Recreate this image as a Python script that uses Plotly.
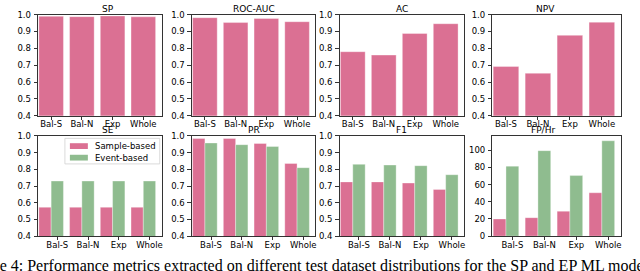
import plotly.graph_objects as go

categories = ["Bal-S", "Bal-N", "Exp", "Whole"]

# Top row (single series)
sp = [0.990, 0.988, 0.992, 0.987]
roc_auc = [0.982, 0.953, 0.977, 0.958]
ac = [0.780, 0.760, 0.888, 0.946]
npv = [0.692, 0.652, 0.877, 0.955]

# Bottom row (sample-based vs event-based)
se_sample = [0.573, 0.573, 0.573, 0.573]
se_event = [0.730, 0.730, 0.730, 0.730]
pr_sample = [0.985, 0.985, 0.955, 0.835]
pr_event = [0.958, 0.948, 0.937, 0.810]
f1_sample = [0.725, 0.725, 0.718, 0.680]
f1_event = [0.830, 0.826, 0.822, 0.768]
fphr_sample = [20.0, 21.5, 29.0, 50.5]
fphr_event = [81.5, 99.5, 70.5, 111.0]

top_titles = ["SP", "ROC-AUC", "AC", "NPV"]
bottom_titles = ["SE", "PR", "F1", "FP/Hr"]
series_names = ["Sample-based", "Event-based"]
caption = ("Figure 4: Performance metrics extracted on different test dataset "
           "distributions for the SP and EP ML models.")

PINK = "#DB7093"
GREEN = "#8FBC8F"
W, H = 640, 271

x_px = [(38, 162), (192, 316), (340, 465), (493, 622)]
top_px = (10, 115)
bot_px = (136, 240)

def px(x):
    return x / W

def py(y):
    return 1 - y / H

def xdom(i):
    a, b = x_px[i]
    return [px(a), px(b)]

def ydom(r):
    t, b = r
    return [py(b), py(t)]

fig = go.Figure()
pos = list(range(len(categories)))
XR = [-0.43, 3.6]
font = "DejaVu Sans"
edge = dict(color="rgba(255,255,255,0.55)", width=0.6)

axis_common = dict(showline=True, mirror=True, linecolor="black", linewidth=0.8,
                   ticks="outside", ticklen=3.5, tickwidth=0.8, tickcolor="black",
                   showgrid=False, zeroline=False,
                   tickfont=dict(family=font, size=8.5, color="black"))

top_data = [sp, roc_auc, ac, npv]
for i, vals in enumerate(top_data):
    n = i + 1
    xa = "x" if n == 1 else f"x{n}"
    ya = "y" if n == 1 else f"y{n}"
    fig.add_trace(go.Bar(x=pos, y=vals, width=0.8, marker=dict(color=PINK, line=edge),
                         xaxis=xa, yaxis=ya, showlegend=False, hoverinfo="skip"))
    fig.layout[f"xaxis{'' if n == 1 else n}"] = dict(domain=xdom(i), anchor=ya, range=XR,
        tickmode="array", tickvals=pos, ticktext=categories, ticklabelstandoff=-3,
        **axis_common)
    fig.layout[f"yaxis{'' if n == 1 else n}"] = dict(domain=ydom(top_px), anchor=xa,
        range=[0.4, 1.0], dtick=0.1, tickformat=".1f", ticklabelstandoff=1, **axis_common)
    fig.add_annotation(text=top_titles[i], xref="paper", yref="paper",
                       x=sum(xdom(i)) / 2, y=ydom(top_px)[1], yanchor="bottom",
                       showarrow=False, yshift=-1,
                       font=dict(family=font, size=9, color="black"))

bottom_data = [(se_sample, se_event), (pr_sample, pr_event),
               (f1_sample, f1_event), (fphr_sample, fphr_event)]
for i, (s, e) in enumerate(bottom_data):
    n = i + 5
    xa, ya = f"x{n}", f"y{n}"
    fig.add_trace(go.Bar(x=pos, y=s, width=0.4, offset=-0.4, name=series_names[0],
                         marker=dict(color=PINK, line=edge), xaxis=xa, yaxis=ya,
                         showlegend=False, hoverinfo="skip"))
    fig.add_trace(go.Bar(x=pos, y=e, width=0.4, offset=0.0, name=series_names[1],
                         marker=dict(color=GREEN, line=edge), xaxis=xa, yaxis=ya,
                         showlegend=False, hoverinfo="skip"))
    fig.layout[f"xaxis{n}"] = dict(domain=xdom(i), anchor=ya, range=XR,
        tickmode="array", tickvals=[p + 0.2 for p in pos], ticktext=categories,
        ticklabelstandoff=-3, **axis_common)
    if i < 3:
        yax = dict(range=[0.4, 1.0], dtick=0.1, tickformat=".1f")
    else:
        yax = dict(range=[0, 116.6], dtick=20)
    fig.layout[f"yaxis{n}"] = dict(domain=ydom(bot_px), anchor=xa, ticklabelstandoff=1,
                                   **yax, **axis_common)
    fig.add_annotation(text=bottom_titles[i], xref="paper", yref="paper",
                       x=sum(xdom(i)) / 2, y=ydom(bot_px)[1], yanchor="bottom",
                       showarrow=False, yshift=-1,
                       font=dict(family=font, size=9, color="black"))

# Legend drawn inside the SE panel (matplotlib style, compact)
fig.add_shape(type="rect", xref="paper", yref="paper",
              x0=px(65), x1=px(160), y0=py(165), y1=py(138.5),
              line=dict(color="#d0d0d0", width=0.8), fillcolor="rgba(255,255,255,0.85)",
              layer="above")
for k, (name, col) in enumerate(zip(series_names, [PINK, GREEN])):
    yc = 146.5 + k * 12
    fig.add_shape(type="rect", xref="paper", yref="paper",
                  x0=px(70), x1=px(88), y0=py(yc + 3), y1=py(yc - 3),
                  line=dict(width=0), fillcolor=col, layer="above")
    fig.add_annotation(text=name, xref="paper", yref="paper", x=px(94), xanchor="left",
                       y=py(yc), yanchor="middle", showarrow=False, borderpad=0,
                       font=dict(family=font, size=8.5, color="black"))

fig.add_annotation(text=caption,
                   xref="paper", yref="paper", x=px(-36), xanchor="left",
                   y=py(261), yanchor="top", showarrow=False, borderpad=0,
                   font=dict(family="Liberation Serif", size=16, color="black"))

fig.update_layout(
    width=W, height=H, margin=dict(l=0, r=0, t=0, b=0),
    paper_bgcolor="white", plot_bgcolor="white", barmode="overlay",
    showlegend=False, hovermode=False,
)

fig.write_html("out.html", config={"displayModeBar": False, "staticPlot": True},
               post_script="document.body.style.margin='0';document.body.style.overflow='hidden';")
